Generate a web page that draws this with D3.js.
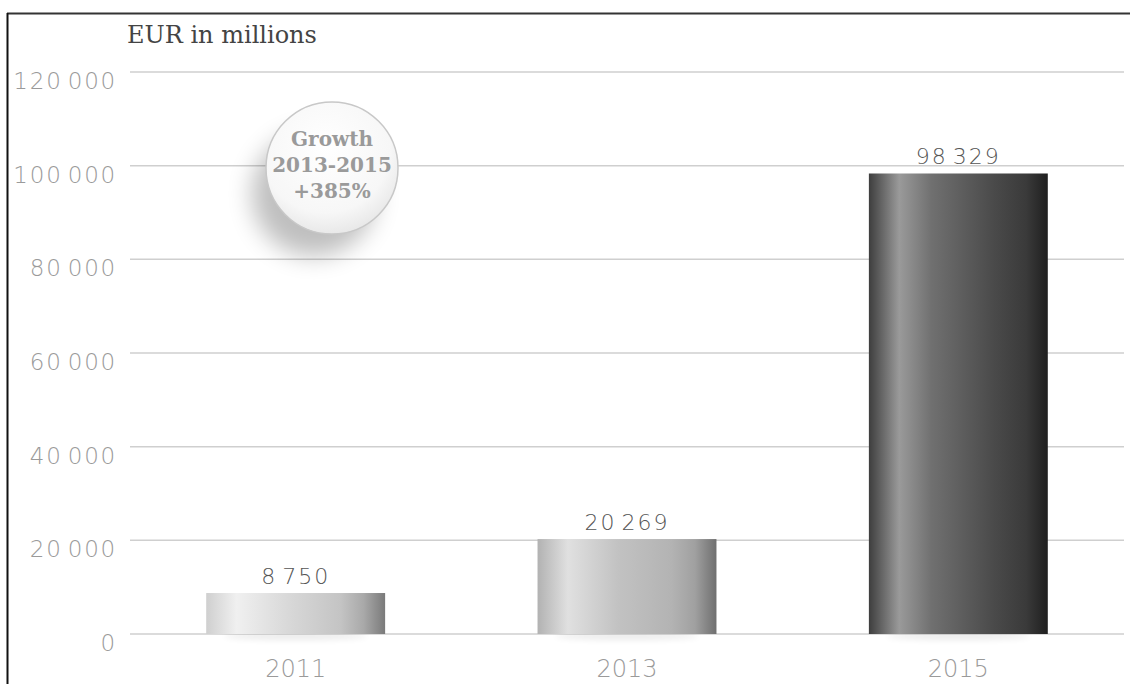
<!DOCTYPE html>
<html>
<head>
<meta charset="utf-8">
<script src="https://cdn.jsdelivr.net/npm/d3@7"></script>
<style>
  html, body { margin: 0; padding: 0; background: #fff; }
  svg { display: block; }
</style>
</head>
<body>
<svg id="chart" width="1130" height="684"></svg>
<script>
// Revenue by year, EUR millions
const years = ["2011", "2013", "2015"];
const values = [8750, 20269, 98329];
const yTicks = [0, 20000, 40000, 60000, 80000, 100000, 120000];
const unitLabel = "EUR in millions";
const badgeLines = ["Growth", "2013-2015", "+385%"];

// Per-bar gradient stops: [offset, colour]
const barShades = [
  [[0, "#cfcfcf"], [0.17, "#f0f0f0"], [0.45, "#d9d9d9"], [0.75, "#c4c4c4"], [0.88, "#a9a9a9"], [1, "#7a7a7a"]],
  [[0, "#b2b2b2"], [0.17, "#e0e0e0"], [0.45, "#c2c2c2"], [0.75, "#b3b3b3"], [0.88, "#a0a0a0"], [1, "#6f6f6f"]],
  [[0, "#3e3e3e"], [0.17, "#9a9a9a"], [0.35, "#707070"], [0.7, "#4a4a4a"], [0.88, "#3a3a3a"], [1, "#1f1f1f"]]
];

const svg = d3.select("#chart");
const W = 1130, H = 684;
const plotL = 130, plotR = 1124, plotT = 72, plotB = 634;
const sansLight = "'DejaVu Sans ExtraLight', 'DejaVu Sans', sans-serif";

const x = d3.scaleBand().domain(years).range([plotL, plotR]).paddingInner(0.46).paddingOuter(0.23);
const y = d3.scaleLinear().domain([0, 120000]).range([plotB, plotT]);

const fmt = v => d3.format(",")(v).replace(/,/g, " ");

const defs = svg.append("defs");
barShades.forEach((stops, i) => {
  const g = defs.append("linearGradient").attr("id", "bar" + i)
    .attr("x1", "0%").attr("x2", "100%").attr("y1", "0%").attr("y2", "0%");
  stops.forEach(s => g.append("stop").attr("offset", s[0]).attr("stop-color", s[1]));
});
const badgeGrad = defs.append("radialGradient").attr("id", "badgeFill")
  .attr("cx", "45%").attr("cy", "35%").attr("r", "70%");
badgeGrad.append("stop").attr("offset", 0).attr("stop-color", "#ffffff");
badgeGrad.append("stop").attr("offset", 0.7).attr("stop-color", "#f7f7f7");
badgeGrad.append("stop").attr("offset", 1).attr("stop-color", "#e4e4e4");
defs.append("filter").attr("id", "soft").attr("x", "-50%").attr("y", "-50%").attr("width", "200%").attr("height", "200%")
  .append("feGaussianBlur").attr("stdDeviation", 12);
defs.append("filter").attr("id", "softSmall").attr("x", "-50%").attr("y", "-200%").attr("width", "200%").attr("height", "500%")
  .append("feGaussianBlur").attr("stdDeviation", 3);

// Frame
svg.append("line").attr("x1", 7).attr("x2", W).attr("y1", 13.5).attr("y2", 13.5)
  .attr("stroke", "#333").attr("stroke-width", 2);
svg.append("line").attr("x1", 7.5).attr("x2", 7.5).attr("y1", 13).attr("y2", H)
  .attr("stroke", "#111").attr("stroke-width", 2);

// Unit label
svg.append("text").attr("x", 127).attr("y", 43)
  .attr("font-family", "'DejaVu Serif', serif").attr("font-size", 24)
  .attr("fill", "#444").text(unitLabel);

// Gridlines and y tick labels
const yAxis = svg.append("g");
yAxis.selectAll("line").data(yTicks).join("line")
  .attr("x1", plotL).attr("x2", plotR)
  .attr("y1", d => y(d)).attr("y2", d => y(d))
  .attr("stroke", "#cfcfcf").attr("stroke-width", 1.5);
yAxis.selectAll("text").data(yTicks).join("text")
  .attr("x", 117).attr("y", d => y(d) + 17)
  .attr("text-anchor", "end")
  .attr("font-family", sansLight).attr("font-weight", 200).attr("font-size", 23)
  .attr("letter-spacing", 1.8).attr("word-spacing", -4)
  .attr("fill", "#9a9a9a")
  .text(d => fmt(d));

// Soft shadows under bars
svg.append("g").selectAll("ellipse").data(years).join("ellipse")
  .attr("cx", d => x(d) + x.bandwidth() / 2).attr("cy", plotB + 2)
  .attr("rx", x.bandwidth() * 0.4).attr("ry", 4)
  .attr("fill", "#000").attr("opacity", 0.08).attr("filter", "url(#softSmall)");

// Bars
svg.append("g").selectAll("rect").data(years).join("rect")
  .attr("x", d => x(d)).attr("width", x.bandwidth())
  .attr("y", (d, i) => y(values[i])).attr("height", (d, i) => plotB - y(values[i]))
  .attr("fill", (d, i) => `url(#bar${i})`);

// Value labels
svg.append("g").selectAll("text").data(years).join("text")
  .attr("x", d => x(d) + x.bandwidth() / 2)
  .attr("y", (d, i) => y(values[i]) - 9)
  .attr("text-anchor", "middle")
  .attr("font-family", sansLight).attr("font-weight", 200).attr("font-size", 22)
  .attr("letter-spacing", 2).attr("word-spacing", -4)
  .attr("fill", "#555")
  .text((d, i) => fmt(values[i]));

// Category labels
svg.append("g").selectAll("text").data(years).join("text")
  .attr("x", d => x(d) + x.bandwidth() / 2).attr("y", 677)
  .attr("text-anchor", "middle")
  .attr("font-family", sansLight).attr("font-weight", 200).attr("font-size", 24)
  .attr("fill", "#9a9a9a")
  .text(d => d);

// Growth badge
const bx = 332, by = 168, br = 66;
const badge = svg.append("g");
badge.append("circle").attr("cx", bx - 18).attr("cy", by + 26).attr("r", br - 4)
  .attr("fill", "#000").attr("opacity", 0.25).attr("filter", "url(#soft)");
badge.append("circle").attr("cx", bx).attr("cy", by).attr("r", br)
  .attr("fill", "url(#badgeFill)").attr("stroke", "#c8c8c8").attr("stroke-width", 1.5);
badge.selectAll("text").data(badgeLines).join("text")
  .attr("x", bx).attr("y", (d, i) => by - 22 + i * 26)
  .attr("text-anchor", "middle")
  .attr("font-family", "'DejaVu Serif', serif").attr("font-weight", "bold").attr("font-size", 20)
  .attr("fill", "#9a9a9a")
  .text(d => d);
</script>
</body>
</html>
